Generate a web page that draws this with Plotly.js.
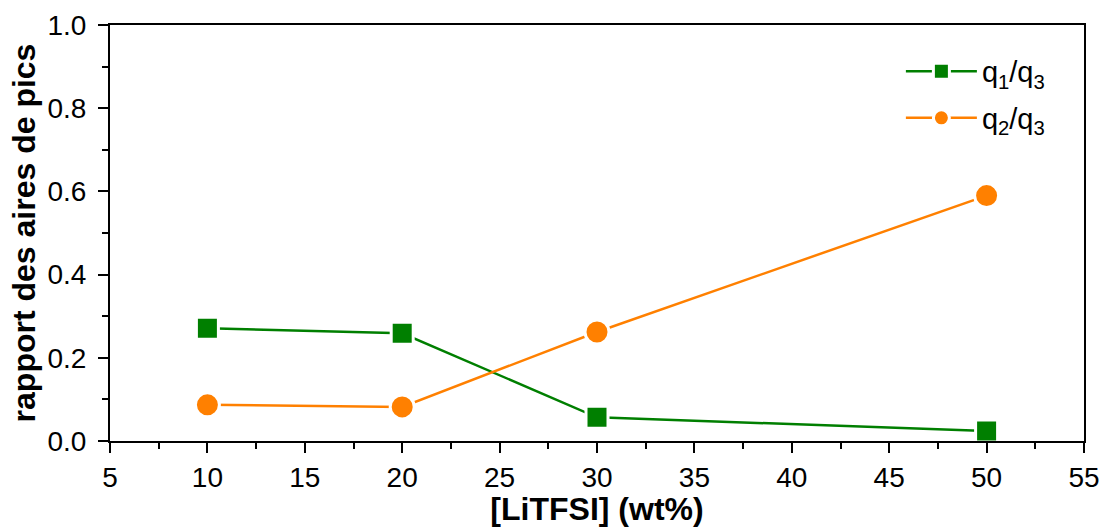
<!DOCTYPE html>
<html>
<head>
<meta charset="utf-8">
<script src="https://cdn.plot.ly/plotly-3.0.1.min.js"></script>
<style>html,body{margin:0;padding:0;background:#fff;}#chart{width:1102px;height:527px;}</style>
</head>
<body>
<div id="chart"></div>
<script>
const concentrations = [10, 20, 30, 50];
const q1q3 = [0.271, 0.259, 0.057, 0.024];
const q2q3 = [0.087, 0.082, 0.262, 0.590];
const seriesNames = ['q<sub>1</sub>/q<sub>3</sub>', 'q<sub>2</sub>/q<sub>3</sub>'];
const xTitle = '<b>[LiTFSI] (wt%)</b>';
const yTitle = '<b>rapport des aires de pics</b>';

const font = '"Liberation Sans", Arial, sans-serif';

const traces = [
  {
    x: concentrations, y: q1q3, name: seriesNames[0], type: 'scatter', mode: 'lines+markers',
    legendgroup: 'g1',
    line: {color: '#007F00', width: 2.5},
    marker: {symbol: 'square', size: 22, color: '#007F00', line: {color: '#ffffff', width: 3}}
  },
  {
    x: concentrations, y: q2q3, name: seriesNames[1], type: 'scatter', mode: 'lines+markers',
    legendgroup: 'g2',
    line: {color: '#FF8000', width: 2.5},
    marker: {symbol: 'circle', size: 24, color: '#FF8000', line: {color: '#ffffff', width: 3}}
  }
];

const axisCommon = {
  showline: true, linecolor: '#000', linewidth: 2, mirror: true,
  ticks: 'outside', ticklen: 10, tickwidth: 2, tickcolor: '#000',
  showgrid: false, zeroline: false,
  tickfont: {family: font, size: 28, color: '#000'}
};

const layout = {
  width: 1102, height: 527,
  margin: {l: 110, r: 18, t: 25, b: 86},
  paper_bgcolor: '#fff', plot_bgcolor: '#fff',
  showlegend: true,
  legend: {x: 0.812, y: 0.95, xanchor: 'left', yanchor: 'top', bgcolor: 'rgba(0,0,0,0)',
           itemwidth: 71,
           font: {family: font, size: 29, color: '#000'}, tracegroupgap: 6},
  xaxis: Object.assign({}, axisCommon, {
    range: [5, 55], dtick: 5, tick0: 5,
    minor: {dtick: 2.5, ticklen: 6, tickwidth: 2, tickcolor: '#000', ticks: 'outside'},
    title: {text: xTitle, font: {family: font, size: 32, color: '#000'}, standoff: 2}
  }),
  yaxis: Object.assign({}, axisCommon, {
    range: [0, 1.0], dtick: 0.2, tickformat: '.1f', ticklabelstandoff: 6,
    minor: {dtick: 0.1, ticklen: 6, tickwidth: 2, tickcolor: '#000', ticks: 'outside'},
    title: {text: yTitle, font: {family: font, size: 32, color: '#000'}, standoff: 2}
  })
};

Plotly.newPlot('chart', traces, layout, {displayModeBar: false, staticPlot: true});
</script>
</body>
</html>
